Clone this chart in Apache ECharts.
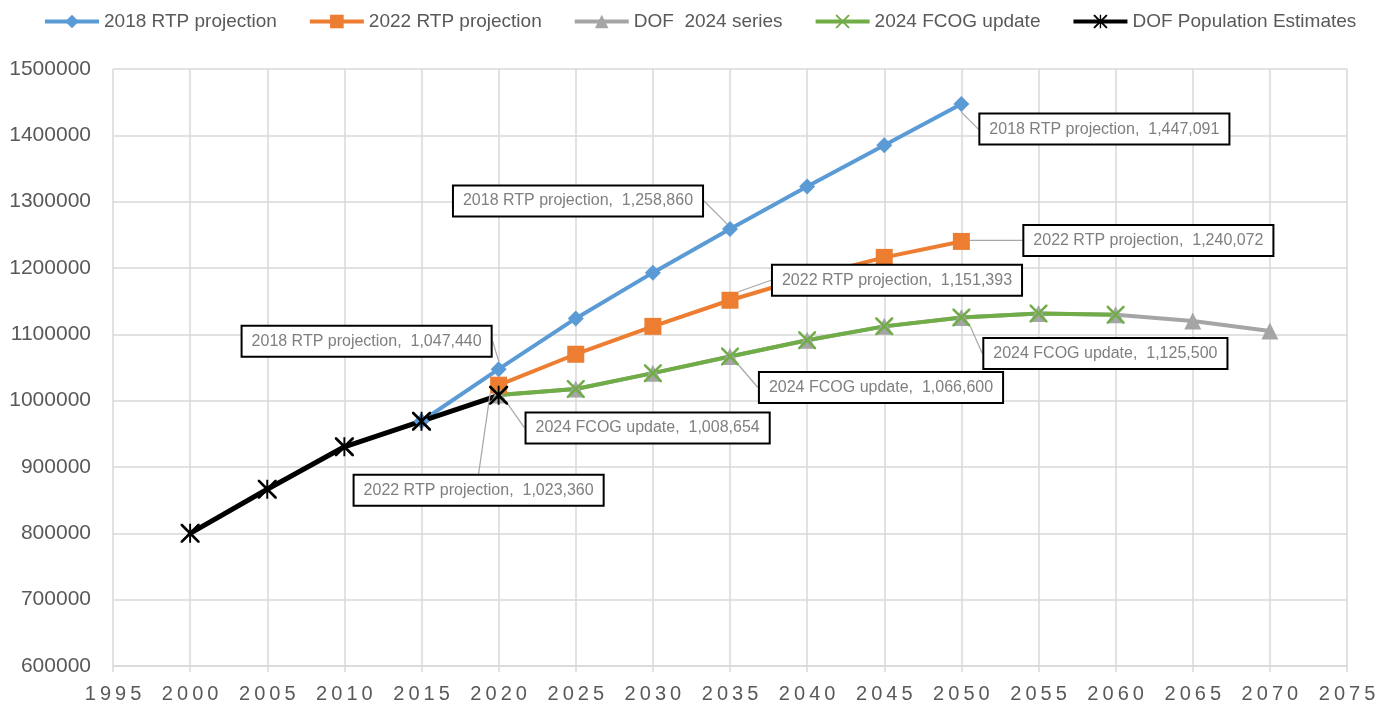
<!DOCTYPE html>
<html>
<head>
<meta charset="utf-8">
<script src="https://cdn.jsdelivr.net/npm/echarts@6/dist/echarts.min.js"></script>
<style>
  html, body { margin: 0; padding: 0; background: #fff; }
  #main { width: 1381px; height: 708px; }
</style>
</head>
<body>
<div id="main"></div>
<script>
// values
const seriesNames = ['2018 RTP projection', '2022 RTP projection', 'DOF  2024 series', '2024 FCOG update', 'DOF Population Estimates']

const years2018 = [2015, 2020, 2025, 2030, 2035, 2040, 2045, 2050]
const rtp2018 = [969000, 1047440, 1124000, 1193000, 1258860, 1323000, 1385000, 1447091]

const years2022 = [2020, 2025, 2030, 2035, 2040, 2045, 2050]
const rtp2022 = [1023360, 1070000, 1112000, 1151393, 1186000, 1216000, 1240072]

const yearsDof = [2020, 2025, 2030, 2035, 2040, 2045, 2050, 2055, 2060, 2065, 2070]
const dof2024 = [1008654, 1017500, 1041500, 1066600, 1091000, 1112000, 1125500, 1131500, 1129500, 1120000, 1105000]

const yearsFcog = [2020, 2025, 2030, 2035, 2040, 2045, 2050, 2055, 2060]
const fcog2024 = [1008654, 1017500, 1041500, 1066600, 1091000, 1112000, 1125500, 1131500, 1129500]

const yearsEst = [2000, 2005, 2010, 2015, 2020]
const dofEst = [800000, 866500, 930500, 969000, 1008000]

const xTicks = { min: 1995, max: 2075, step: 5 }
const yTicks = { min: 600000, max: 1500000, step: 100000 }

// callouts: which point gets a box, and where the box sits (px from the point)
const callouts = [
  { s: 0, year: 2020, dx: -132, dy: -28 },
  { s: 0, year: 2035, dx: -152, dy: -28 },
  { s: 0, year: 2050, dx: 143, dy: 25 },
  { s: 1, year: 2020, dx: -20, dy: 105 },
  { s: 1, year: 2035, dx: 167, dy: -20 },
  { s: 1, year: 2050, dx: 187, dy: -1 },
  { s: 3, year: 2020, dx: 149, dy: 33 },
  { s: 3, year: 2035, dx: 151, dy: 31 },
  { s: 3, year: 2050, dx: 144, dy: 36 }
]

const FONT = "'Liberation Sans', Arial, sans-serif"
const colors = ['#5B9BD5', '#ED7D31', '#A5A5A5', '#70AD47', '#000000']

// x and asterisk markers, drawn as filled outlines
const xMark = 'path://M0,0 L2,0 L10,8 L18,0 L20,0 L20,2 L12,10 L20,18 L20,20 L18,20 L10,12 L2,20 L0,20 L0,18 L8,10 L0,2 Z'
const starMark = 'path://M0,0 L2,0 L10,8 L18,0 L20,0 L20,2 L12,10 L20,18 L20,20 L18,20 L10,12 L2,20 L0,20 L0,18 L8,10 L0,2 Z M9,0 L11,0 L11,20 L9,20 Z'

const fmt = v => v.toLocaleString('en-US')
const allYears = [years2018, years2022, yearsDof, yearsFcog, yearsEst]

function buildData (sIdx, years, vals) {
  return years.map((y, i) => {
    const c = callouts.find(o => o.s === sIdx && o.year === y)
    if (!c) return [y, vals[i]]
    return {
      value: [y, vals[i]],
      label: {
        show: true,
        position: 'inside',
        formatter: seriesNames[sIdx] + ',  ' + fmt(vals[i])
      },
      labelLine: { show: true }
    }
  })
}

function layoutFor (sIdx) {
  return function (params) {
    const c = callouts.find(o => o.s === sIdx && o.year === allYears[sIdx][params.dataIndex])
    if (!c) return {}
    return { dx: c.dx, dy: c.dy }
  }
}

const labelBase = {
  show: false,
  color: '#7f7f7f',
  fontFamily: FONT,
  fontSize: 16,
  backgroundColor: '#ffffff',
  borderColor: '#000000',
  borderWidth: 2,
  padding: [7, 9, 6, 9]
}

const labelLineBase = {
  show: false,
  smooth: false,
  lineStyle: { color: '#a6a6a6', width: 1.2 }
}

let option = {
  animation: false,
  backgroundColor: '#ffffff',
  color: colors,
  legend: {
    top: 7,
    left: 38,
    itemWidth: 54,
    itemHeight: 17,
    itemGap: 31,
    lineStyle: { width: 4 },
    textStyle: { color: '#595959', fontSize: 19, fontFamily: FONT },
    data: seriesNames
  },
  grid: {
    left: 113,
    right: 34,
    top: 69,
    bottom: 42,
    outerBoundsMode: 'none',
    containLabel: false
  },
  xAxis: {
    type: 'value',
    min: xTicks.min,
    max: xTicks.max,
    interval: xTicks.step,
    axisLine: { show: true, lineStyle: { color: '#d9d9d9', width: 1.5 } },
    axisTick: { show: true, length: 6, lineStyle: { color: '#d9d9d9', width: 1.5 } },
    splitLine: { show: true, lineStyle: { color: '#d9d9d9', width: 1.5 } },
    axisLabel: {
      color: '#595959',
      fontSize: 20,
      fontFamily: FONT,
      margin: 18,
      formatter: v => String(v).split('').join('\u2009')
    }
  },
  yAxis: {
    type: 'value',
    min: yTicks.min,
    max: yTicks.max,
    interval: yTicks.step,
    axisLine: { show: false },
    axisTick: { show: false },
    splitLine: { show: true, lineStyle: { color: '#d9d9d9', width: 1.5 } },
    axisLabel: { color: '#595959', fontSize: 21, fontFamily: FONT, margin: 22, formatter: v => String(v) }
  },
  series: [
    {
      name: seriesNames[0],
      type: 'line',
      data: buildData(0, years2018, rtp2018),
      symbol: 'diamond',
      symbolSize: 16,
      lineStyle: { width: 4 },
      label: labelBase,
      labelLine: labelLineBase,
      labelLayout: layoutFor(0)
    },
    {
      name: seriesNames[1],
      type: 'line',
      data: buildData(1, years2022, rtp2022),
      symbol: 'rect',
      symbolSize: 17,
      lineStyle: { width: 4 },
      label: labelBase,
      labelLine: labelLineBase,
      labelLayout: layoutFor(1)
    },
    {
      name: seriesNames[2],
      type: 'line',
      data: buildData(2, yearsDof, dof2024),
      symbol: 'triangle',
      symbolSize: 17,
      lineStyle: { width: 4 }
    },
    {
      name: seriesNames[3],
      type: 'line',
      data: buildData(3, yearsFcog, fcog2024),
      symbol: xMark,
      symbolSize: 18,
      lineStyle: { width: 4 },
      label: labelBase,
      labelLine: labelLineBase,
      labelLayout: layoutFor(3)
    },
    {
      name: seriesNames[4],
      type: 'line',
      data: buildData(4, yearsEst, dofEst),
      symbol: starMark,
      symbolSize: 19,
      lineStyle: { width: 5 }
    }
  ]
}

let myChart = echarts.init(document.getElementById('main'))
myChart.setOption(option)
</script>
</body>
</html>
